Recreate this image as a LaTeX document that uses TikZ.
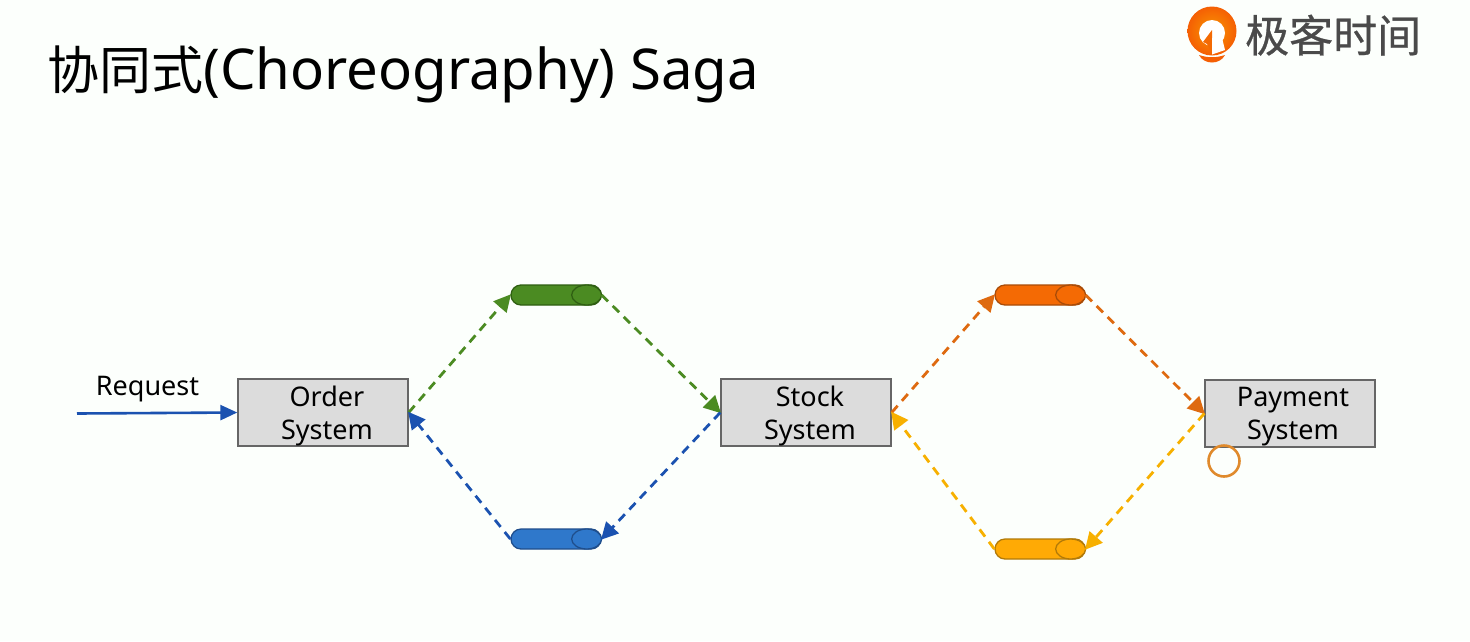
\documentclass[tikz,border=0pt]{standalone}
\usepackage{fontspec}
\setmainfont{Noto Sans}
\newfontfamily\cjk{Noto Sans CJK SC}
\newfontfamily\cjklogo[FakeBold=0.6]{Noto Sans CJK SC}
\usetikzlibrary{shapes.misc,arrows.meta,calc}
\definecolor{cgreen}{HTML}{4B8B22}
\definecolor{cgreend}{HTML}{2F5F12}
\definecolor{cblue}{HTML}{2F78CB}
\definecolor{cblued}{HTML}{1F4E8C}
\definecolor{cnavy}{HTML}{1B52B0}
\definecolor{corange}{HTML}{F46A04}
\definecolor{corangel}{HTML}{DE6A10}
\definecolor{corangeD}{HTML}{A94C08}
\definecolor{cyellow}{HTML}{FFAA05}
\definecolor{cyellowl}{HTML}{F7B000}
\definecolor{cyellowd}{HTML}{B27A08}
\definecolor{boxfill}{HTML}{DCDCDC}
\definecolor{boxline}{HTML}{666666}
\definecolor{logotext}{HTML}{4A4A4A}
\definecolor{ringc}{HTML}{E08A2C}
\tikzset{
  x=1pt,y=-1pt,
  sysbox/.style={draw=boxline,line width=1.4pt,fill=boxfill,minimum width=170pt,minimum height=67pt,inner sep=0pt},
  boxtext/.style={font=\fontsize{27}{33}\selectfont,align=center,text=black,inner sep=0pt,yshift=-3.5pt},
  pill/.style={rounded rectangle,line width=1.3pt,minimum width=90pt,minimum height=20pt,inner sep=0pt},
  flow/.style={dashed,dash pattern=on 9pt off 6.5pt,line width=2.8pt,-{Triangle[length=17pt,width=17pt]},shorten >=-1pt},
}
\newcommand{\queue}[5]{%
  \node[pill,draw=#4,fill=#3] (#1) at (#2) {};
  \draw[#4,line width=1.3pt,fill=#5] ($(#1.east)+(-15,0)$) ellipse[x radius=15pt,y radius=10pt];
}
\begin{document}
\begin{tikzpicture}
\useasboundingbox (0,0) rectangle (1470,641);
\fill[white!99!green] (0,0) rectangle (1470,641);
% title
\node[anchor=base west,inner sep=0pt,text=black,font=\fontsize{56.3}{60}\selectfont] (title) at (47,89) {{\cjk\fontsize{52}{60}\selectfont 协同式}(Choreography) Saga};
% logo
\shade[inner color=corange!70!yellow,outer color=corange!90!red] (1212,31) circle[radius=24.5];
\fill[white] (1212,33) circle[radius=13];
\fill[corange] (1212,30) -- (1203,42) -- (1207,44) -- (1212,53) -- cycle;
\fill[white] (1212,38) -- (1222,38) -- (1225,50) -- (1212,54.5) -- cycle;
\fill[corange!90!red] (1199,55) .. controls (1208,58) and (1216,58) .. (1225,55) .. controls (1220,65) and (1204,65) .. (1199,55) -- cycle;
\node[anchor=base west,inner sep=0pt,text=logotext,font=\cjklogo\fontsize{44}{46}\selectfont] (logo) at (1245,52) {极客时间};
% systems
\node[sysbox,label={[boxtext,xshift=4pt]center:Order\\System}] (order) at (323,412.5) {};
\node[sysbox,label={[boxtext,xshift=4pt]center:Stock\\System}] (stock) at (806,412.5) {};
\node[sysbox,label={[boxtext,xshift=3pt]center:Payment\\System}] (pay) at (1290,413.5) {};
% queues
\queue{qg}{556,295}{cgreen}{cgreend}{cgreen}
\queue{qb}{556,539}{cblue}{cblued}{cblue}
\queue{qo}{1040,295}{corange}{corangeD}{corange}
\queue{qy}{1040,549}{cyellow}{cyellowd}{cyellow}
% request
\coordinate (req) at (77,413.5);
\draw[cnavy,line width=2.6pt,-{Triangle[length=17pt,width=15pt]}] (req) -- (order.west);
\node[font=\fontsize{27}{30}\selectfont,inner sep=0pt,text=black] (reqt) at (147.5,389) {Request};
% flows
\draw[flow,cgreen] (order.east) -- (qg.west);
\draw[flow,cgreen] (qg.east) -- (stock.west);
\draw[flow,cnavy] (stock.west) -- (qb.east);
\draw[flow,cnavy] (qb.west) -- (order.east);
\draw[flow,corangel] (stock.east) -- (qo.west);
\draw[flow,corangel] (qo.east) -- (pay.west);
\draw[flow,cyellowl] (pay.west) -- (qy.east);
\draw[flow,cyellowl] (qy.west) -- (stock.east);
% cursor ring
\node[circle,draw=ringc,line width=2.6pt,minimum size=31pt,inner sep=0pt] (ring) at (1224,461) {};
\end{tikzpicture}
\end{document}
